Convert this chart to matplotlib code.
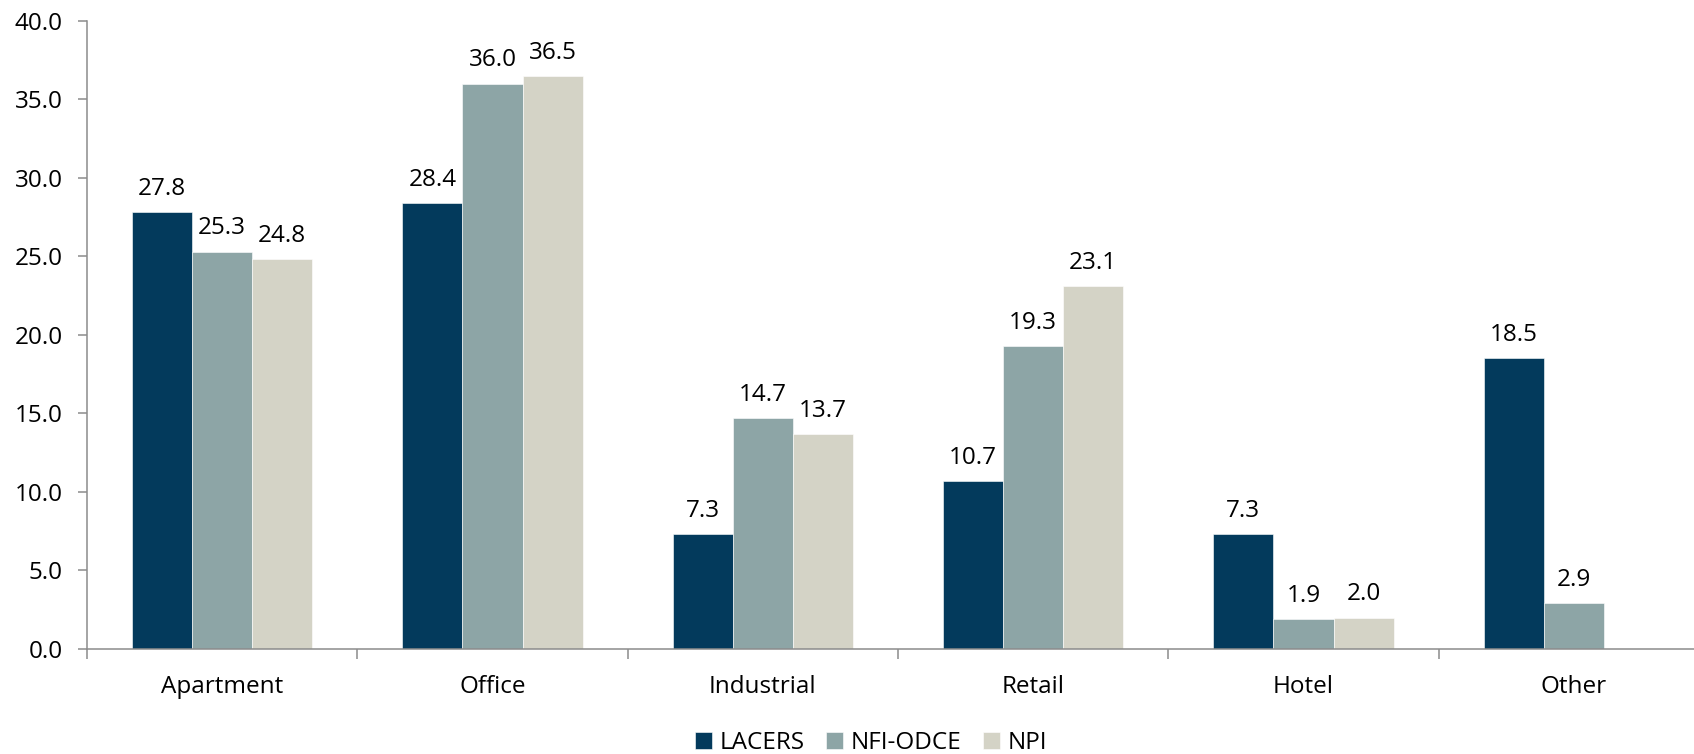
import matplotlib
matplotlib.use("Agg")
import matplotlib.pyplot as plt
import numpy as np

categories = ["Apartment", "Office", "Industrial", "Retail", "Hotel", "Other"]
series_names = ["LACERS", "NFI-ODCE", "NPI"]
lacers = [27.8, 28.4, 7.3, 10.7, 7.3, 18.5]
nfi_odce = [25.3, 36.0, 14.7, 19.3, 1.9, 2.9]
npi = [24.8, 36.5, 13.7, 23.1, 2.0, None]
colors = ["#033A5C", "#8DA5A6", "#D4D3C6"]
yticks = [0, 5, 10, 15, 20, 25, 30, 35, 40]

plt.rcParams['font.family'] = ['Open Sans', 'DejaVu Sans']
FS = 17.5

fig = plt.figure(figsize=(16.94, 7.54), dpi=100)
ax = fig.add_axes([87/1694, 105/754, (1709-87)/1694, (649-20.7)/754])

x = np.arange(len(categories))
w = 1/4.5
for i, (name, vals) in enumerate(zip(series_names, [lacers, nfi_odce, npi])):
    pos = x + (i - 1) * w
    v = np.array([np.nan if a is None else a for a in vals], dtype=float)
    ax.bar(pos, np.nan_to_num(v), width=w, color=colors[i], label=name,
           edgecolor='white', linewidth=0.4)
    for p, val in zip(pos, v):
        if not np.isnan(val):
            ax.annotate(f"{val:.1f}", (p, val), xytext=(0, 8), textcoords='offset points',
                        ha='center', va='bottom', fontsize=FS, color='black')

ax.set_xlim(-0.5, len(categories) - 0.5)
ax.set_ylim(0, 40)
ax.set_yticks(yticks)
ax.set_yticklabels([f"{t:.1f}" for t in yticks], fontsize=FS)
ax.set_xticks(np.arange(len(categories) + 1) - 0.5)
ax.set_xticklabels([])
ax.set_xticks(x, minor=True)
ax.set_xticklabels(categories, minor=True, fontsize=FS)
ax.tick_params(axis='x', which='minor', length=0, pad=19)
ax.tick_params(axis='x', which='major', length=7, width=1.1, color='#8c8c8c', direction='out')
ax.tick_params(axis='y', length=6.5, width=1.1, color='#8c8c8c', direction='out', pad=11)
for s in ['top', 'right']:
    ax.spines[s].set_visible(False)
for s in ['left', 'bottom']:
    ax.spines[s].set_color('#8c8c8c')
    ax.spines[s].set_linewidth(1.1)

fig.legend(loc='center', bbox_to_anchor=(871/1694, 11/754), ncol=3, frameon=False,
           fontsize=FS, handlelength=0.7, handleheight=0.7, handletextpad=0.3,
           columnspacing=0.9)

fig.savefig("out.png", dpi=100)
